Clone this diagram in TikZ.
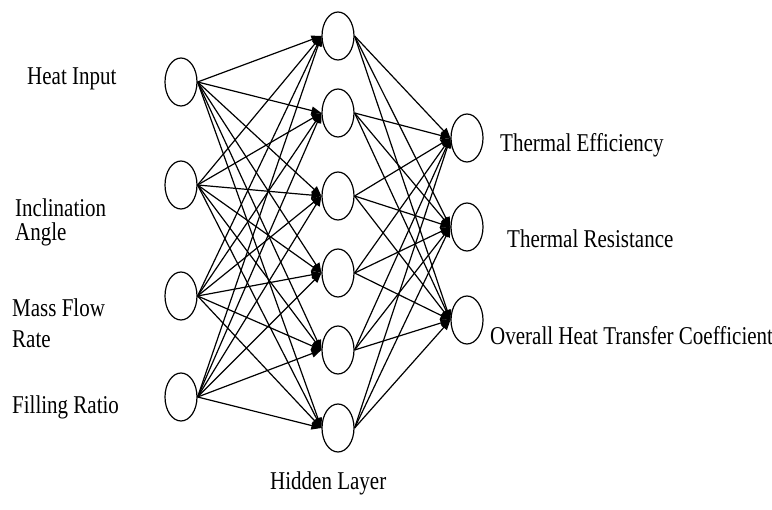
\documentclass[tikz,border=0pt]{standalone}
\usepackage{fontspec}
\setmainfont{Liberation Serif}
\usetikzlibrary{shapes.geometric,arrows.meta}
\newcommand\tx[1]{\scalebox{1}[1.22]{#1}}
\tikzset{
  neuron/.style={ellipse,draw,line width=1.2pt,minimum width=32pt,minimum height=48pt,inner sep=0pt,fill=white},
  conn/.style={line width=1.2pt,-{Triangle[length=10pt,width=8pt]}},
  lbl/.style={anchor=base west,inner sep=0pt,font=\fontsize{21}{24}\selectfont}
}
\begin{document}
\begin{tikzpicture}[x=1pt,y=-1pt]
\useasboundingbox (0,0) rectangle (772,510);
% input layer
\node[neuron] (i1) at (181,82) {};
\node[neuron] (i2) at (181,185) {};
\node[neuron] (i3) at (181,296) {};
\node[neuron] (i4) at (181,397) {};
% hidden layer
\node[neuron] (h1) at (338,36) {};
\node[neuron] (h2) at (338,113) {};
\node[neuron] (h3) at (338,196) {};
\node[neuron] (h4) at (338,273) {};
\node[neuron] (h5) at (338,350) {};
\node[neuron] (h6) at (338,428) {};
% output layer
\node[neuron] (o1) at (467,138) {};
\node[neuron] (o2) at (467,227) {};
\node[neuron] (o3) at (467,320) {};
% connections
\foreach \i in {1,...,4}
  \foreach \h in {1,...,6}
    \draw[conn] (i\i.east) -- (h\h.west);
\foreach \h in {1,...,6}
  \foreach \o in {1,...,3}
    \draw[conn] (h\h.east) -- (o\o.west);
% labels
\node[lbl] (l1) at (27,85) {\tx{Heat Input}};
\node[lbl] (l2a) at (15,217) {\tx{Inclination}};
\node[lbl] (l2b) at (15,241) {\tx{Angle}};
\node[lbl] (l3a) at (12,317) {\tx{Mass Flow}};
\node[lbl] (l3b) at (12,348) {\tx{Rate}};
\node[lbl] (l4) at (12,414) {\tx{Filling Ratio}};
\node[lbl] (lo1) at (500,152) {\tx{Thermal Efficiency}};
\node[lbl] (lo2) at (507,248) {\tx{Thermal Resistance}};
\node[lbl] (lo3) at (490,345) {\tx{Overall Heat Transfer Coefficient}};
\node[lbl] (lh) at (270,490) {\tx{Hidden Layer}};
\end{tikzpicture}
\end{document}
